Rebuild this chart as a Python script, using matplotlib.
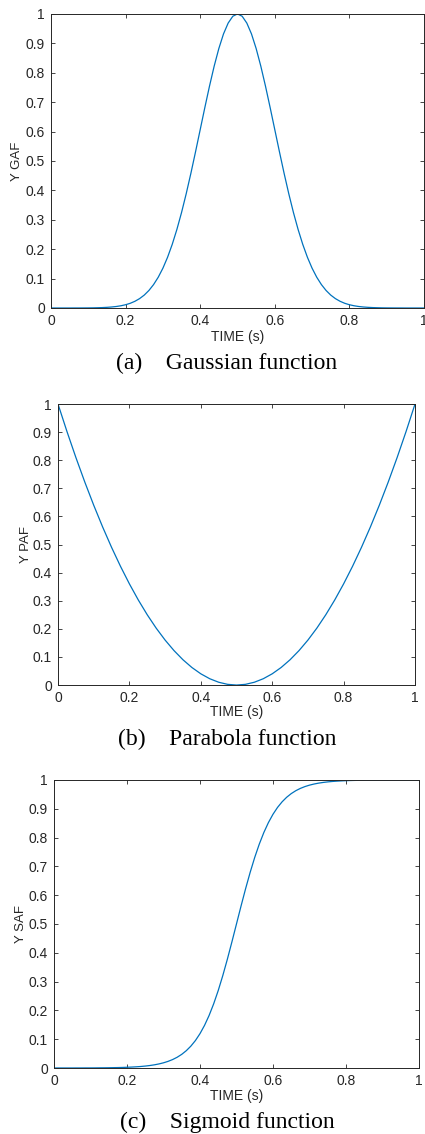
import matplotlib
matplotlib.use('Agg')
import matplotlib.pyplot as plt

# time axes (s)
t_fine = [i * 0.0125 for i in range(81)]
t_coarse = [i * 0.025 for i in range(41)]

# Gaussian, read every 0.0125 s
y_gaf = [0.0, 0.0, 0.0, 0.0, 0.0, 0.0001, 0.0001, 0.0002, 0.0003, 0.0005,
         0.0009, 0.0014, 0.0022, 0.0034, 0.0051, 0.0076, 0.0111, 0.016, 0.0228, 0.0319,
         0.0439, 0.0596, 0.0796, 0.1046, 0.1353, 0.1724, 0.2163, 0.2671, 0.3247, 0.3886,
         0.4578, 0.5311, 0.6065, 0.6819, 0.7548, 0.8226, 0.8825, 0.9321, 0.969, 0.9922,
         1.0,
         0.9922, 0.969, 0.9321, 0.8825, 0.8226, 0.7548, 0.6819, 0.6065, 0.5311, 0.4578,
         0.3886, 0.3247, 0.2671, 0.2163, 0.1724, 0.1353, 0.1046, 0.0796, 0.0596, 0.0439,
         0.0319, 0.0228, 0.016, 0.0111, 0.0076, 0.0051, 0.0034, 0.0022, 0.0014, 0.0009,
         0.0005, 0.0003, 0.0002, 0.0001, 0.0001, 0.0, 0.0, 0.0, 0.0, 0.0]

# Parabola, read every 0.025 s
y_paf = [1.0, 0.9025, 0.81, 0.7225, 0.64, 0.5625, 0.49, 0.4225, 0.36, 0.3025,
         0.25, 0.2025, 0.16, 0.1225, 0.09, 0.0625, 0.04, 0.0225, 0.01, 0.0025,
         0.0,
         0.0025, 0.01, 0.0225, 0.04, 0.0625, 0.09, 0.1225, 0.16, 0.2025, 0.25,
         0.3025, 0.36, 0.4225, 0.49, 0.5625, 0.64, 0.7225, 0.81, 0.9025, 1.0]

# Sigmoid, read every 0.0125 s
y_saf = [0.0, 0.0001, 0.0001, 0.0001, 0.0001, 0.0002, 0.0002, 0.0003, 0.0003, 0.0004,
         0.0006, 0.0007, 0.0009, 0.0012, 0.0015, 0.0019, 0.0025, 0.0032, 0.0041, 0.0052,
         0.0067, 0.0086, 0.011, 0.0141, 0.018, 0.023, 0.0293, 0.0373, 0.0474, 0.0601,
         0.0759, 0.0953, 0.1192, 0.148, 0.1824, 0.2227, 0.2689, 0.3208, 0.3775, 0.4378,
         0.5,
         0.5622, 0.6225, 0.6792, 0.7311, 0.7773, 0.8176, 0.852, 0.8808, 0.9047, 0.9241,
         0.9399, 0.9526, 0.9627, 0.9707, 0.977, 0.982, 0.9859, 0.989, 0.9914, 0.9933,
         0.9948, 0.9959, 0.9968, 0.9975, 0.9981, 0.9985, 0.9988, 0.9991, 0.9993, 0.9994,
         0.9996, 0.9997, 0.9997, 0.9998, 0.9998, 0.9999, 0.9999, 0.9999, 0.9999, 1.0]

ylabels = ['Y GAF', 'Y PAF', 'Y SAF']
captions = ['(a)    Gaussian function', '(b)    Parabola function', '(c)    Sigmoid function']
xticks = [0, 0.2, 0.4, 0.6, 0.8, 1]
xticklabels = ['0', '0.2', '0.4', '0.6', '0.8', '1']
yticks = [i / 10 for i in range(11)]
yticklabels = ['0', '0.1', '0.2', '0.3', '0.4', '0.5', '0.6', '0.7', '0.8', '0.9', '1']

plt.rcParams['font.family'] = ['Liberation Sans', 'DejaVu Sans']

fig = plt.figure(figsize=(4.25, 11.34), dpi=100)
boxes = [[0.120, 0.7284, 0.8776, 0.2593],
         [0.1365, 0.3959, 0.840, 0.2478],
         [0.127, 0.0582, 0.8588, 0.254]]
cap_y = [0.6799, 0.3483, 0.0106]
grey = '#262626'
series = [(t_fine, y_gaf), (t_coarse, y_paf), (t_fine, y_saf)]

for box, (xd, yd), ylab, cap, cy in zip(boxes, series, ylabels, captions, cap_y):
    ax = fig.add_axes(box)
    ax.plot(xd, yd, color='#0072BD', lw=0.9)
    ax.set_xlim(0, 1)
    ax.set_ylim(0, 1)
    ax.set_xticks(xticks)
    ax.set_xticklabels(xticklabels)
    ax.set_yticks(yticks)
    ax.set_yticklabels(yticklabels)
    ax.tick_params(direction='in', top=True, right=True, length=3, width=0.6,
                   labelsize=10, colors=grey, pad=4.3)
    for s in ax.spines.values():
        s.set_color(grey)
        s.set_linewidth(0.7)
    ax.set_xlabel('TIME (s)', fontsize=10, color=grey, va='center')
    ax.xaxis.set_label_coords(0.5, -0.097)
    ax.set_ylabel(ylab, fontsize=9.5, color=grey, va='center')
    ax.yaxis.set_label_coords(-0.091, 0.5)
    fig.text(0.534, cy, cap, ha='center', va='center', fontsize=17,
             family='Liberation Serif', color='black')

fig.savefig('out.png', dpi=100)
